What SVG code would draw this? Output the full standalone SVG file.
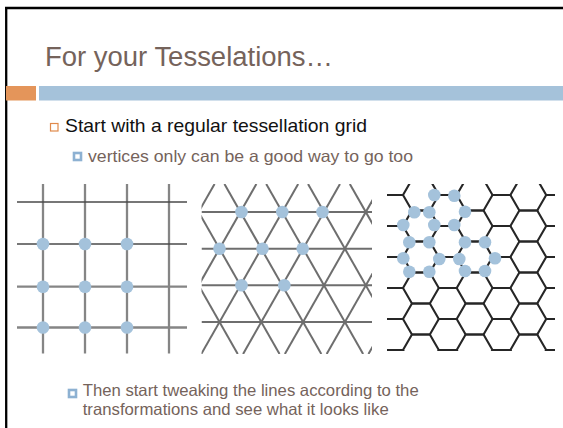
<svg xmlns="http://www.w3.org/2000/svg" xmlns:xlink="http://www.w3.org/1999/xlink" width="563" height="428" viewBox="0 0 563 428">
<style>
.ttl{font-family:"Liberation Sans",Arial,sans-serif;font-size:27px;fill:#75635b}
.b1{font-family:"Liberation Sans",Arial,sans-serif;font-size:18.5px;fill:#111}
.b2{font-family:"Liberation Sans",Arial,sans-serif;font-size:16.5px;fill:#75635b}
.gl{stroke:#858585;stroke-width:2.3;fill:none}
.gd{stroke:#4a4a4a;stroke-width:1.4;fill:none}
.tl{stroke:#6e6e6e;stroke-width:2;fill:none}
.hx{stroke:#262626;stroke-width:2.1;fill:none;stroke-linejoin:round}
.dot{fill:#a4c2db}
.sub{fill:#fff;stroke:#8db1d2;stroke-width:2.6}
</style>
<defs>
<clipPath id="ctri"><rect x="201.5" y="184" width="170.5" height="170"/></clipPath>
<clipPath id="chex"><rect x="387" y="184" width="168" height="167"/></clipPath>
<path id="hE" d="M-26.85,15.5 L-17.9,0 L0,0 L8.95,15.5 L26.85,15.5 L35.8,0 L53.7,0 L62.65,15.5 L80.55,15.5 L89.5,0 L107.4,0 L116.35,15.5 L134.25,15.5 L143.2,0 L161.1,0 L170.05,15.5"/>
<path id="hO" d="M-26.85,0 L-17.9,15.5 L0,15.5 L8.95,0 L26.85,0 L35.8,15.5 L53.7,15.5 L62.65,0 L80.55,0 L89.5,15.5 L107.4,15.5 L116.35,0 L134.25,0 L143.2,15.5 L161.1,15.5 L170.05,0"/>
</defs>
<rect width="563" height="428" fill="#fff"/>
<g id="border" stroke="#000" stroke-width="2.3">
<line x1="6.2" y1="7" x2="6.2" y2="428"/>
<line x1="5" y1="8" x2="563" y2="8"/>
</g>
<g id="title"><text class="ttl" x="45" y="65.5" textLength="288" lengthAdjust="spacingAndGlyphs">For your Tesselations…</text></g>
<g id="bars">
<rect x="6" y="86" width="30" height="14.5" fill="#e4955a"/>
<rect x="39" y="86" width="524" height="14.5" fill="#a5c2da"/>
</g>
<g id="bullet1">
<rect x="50.5" y="123.5" width="7.5" height="7.5" fill="#fff" stroke="#e08a4c" stroke-width="1.2"/>
<text class="b1" x="65" y="132" textLength="302" lengthAdjust="spacingAndGlyphs">Start with a regular tessellation grid</text>
</g>
<g id="bullet2">
<rect class="sub" x="74" y="153" width="7" height="7"/>
<text class="b2" x="88" y="162" textLength="325" lengthAdjust="spacingAndGlyphs">vertices only can be a good way to go too</text>
</g>
<g id="square-grid">
<g class="gl">
<line x1="43" y1="184" x2="43" y2="353.5"/>
<line x1="85" y1="184" x2="85" y2="353.5"/>
<line x1="127" y1="184" x2="127" y2="353.5"/>
<line x1="169" y1="184" x2="169" y2="353.5"/>
<line x1="17" y1="286.7" x2="187" y2="286.7"/>
<line x1="17" y1="327.5" x2="187" y2="327.5"/>
</g>
<g class="gd">
<line x1="17" y1="202" x2="187" y2="202"/>
<line x1="17" y1="244" x2="187" y2="244"/>
</g>
<circle class="dot" cx="43" cy="244" r="6.3"/>
<circle class="dot" cx="85" cy="244" r="6.3"/>
<circle class="dot" cx="127" cy="244" r="6.3"/>
<circle class="dot" cx="43" cy="286.7" r="6.3"/>
<circle class="dot" cx="85" cy="286.7" r="6.3"/>
<circle class="dot" cx="127" cy="286.7" r="6.3"/>
<circle class="dot" cx="43" cy="327.5" r="6.3"/>
<circle class="dot" cx="85" cy="327.5" r="6.3"/>
<circle class="dot" cx="127" cy="327.5" r="6.3"/>
</g>
<g id="triangle-grid">
<g class="tl" clip-path="url(#ctri)">
<line x1="201.5" y1="212" x2="372" y2="212"/>
<line x1="201.5" y1="248.7" x2="372" y2="248.7"/>
<line x1="201.5" y1="285.3" x2="372" y2="285.3"/>
<line x1="201.5" y1="322" x2="372" y2="322"/>
<line x1="140.84" y1="184" x2="237.73" y2="354"/>
<line x1="182.64" y1="184" x2="279.53" y2="354"/>
<line x1="224.44" y1="184" x2="321.33" y2="354"/>
<line x1="266.24" y1="184" x2="363.13" y2="354"/>
<line x1="308.04" y1="184" x2="404.93" y2="354"/>
<line x1="349.84" y1="184" x2="446.73" y2="354"/>
<line x1="214.56" y1="184" x2="117.67" y2="354"/>
<line x1="256.36" y1="184" x2="159.47" y2="354"/>
<line x1="298.16" y1="184" x2="201.27" y2="354"/>
<line x1="339.96" y1="184" x2="243.07" y2="354"/>
<line x1="381.76" y1="184" x2="284.87" y2="354"/>
<line x1="423.56" y1="184" x2="326.67" y2="354"/>
<line x1="465.36" y1="184" x2="368.47" y2="354"/>
</g>
<circle class="dot" cx="241.5" cy="212" r="6.3"/>
<circle class="dot" cx="282.3" cy="212" r="6.3"/>
<circle class="dot" cx="322.5" cy="212" r="6.3"/>
<circle class="dot" cx="219.5" cy="248.7" r="6.3"/>
<circle class="dot" cx="262.5" cy="248.7" r="6.3"/>
<circle class="dot" cx="302.7" cy="248.7" r="6.3"/>
<circle class="dot" cx="241.5" cy="285.3" r="6.3"/>
<circle class="dot" cx="284.3" cy="285.3" r="6.3"/>
</g>
<g id="hex-grid">
<g clip-path="url(#chex)">
<g class="hx" transform="translate(403,195)">
<use xlink:href="#hO" y="-15.5"/>
<use xlink:href="#hE" y="0"/>
<use xlink:href="#hO" y="15.5"/>
<use xlink:href="#hE" y="31"/>
<use xlink:href="#hO" y="46.5"/>
<use xlink:href="#hE" y="62"/>
<use xlink:href="#hO" y="77.5"/>
<use xlink:href="#hE" y="93"/>
<use xlink:href="#hO" y="108.5"/>
<use xlink:href="#hE" y="124"/>
<use xlink:href="#hO" y="139.5"/>
<use xlink:href="#hE" y="155"/>
</g>
</g>
<circle class="dot" cx="434.3" cy="195" r="6.3"/>
<circle class="dot" cx="454.3" cy="195.7" r="6.3"/>
<circle class="dot" cx="414.3" cy="212.3" r="6.3"/>
<circle class="dot" cx="429.3" cy="212.3" r="6.3"/>
<circle class="dot" cx="465" cy="211.7" r="6.3"/>
<circle class="dot" cx="403.3" cy="225" r="6.3"/>
<circle class="dot" cx="434.3" cy="225" r="6.3"/>
<circle class="dot" cx="454.3" cy="225" r="6.3"/>
<circle class="dot" cx="409.3" cy="242.3" r="6.3"/>
<circle class="dot" cx="429.3" cy="242.3" r="6.3"/>
<circle class="dot" cx="465" cy="242.3" r="6.3"/>
<circle class="dot" cx="485" cy="242.3" r="6.3"/>
<circle class="dot" cx="403.3" cy="258.3" r="6.3"/>
<circle class="dot" cx="439.3" cy="259" r="6.3"/>
<circle class="dot" cx="459.3" cy="259" r="6.3"/>
<circle class="dot" cx="495" cy="258.3" r="6.3"/>
<circle class="dot" cx="409.3" cy="271.7" r="6.3"/>
<circle class="dot" cx="429.3" cy="271.7" r="6.3"/>
<circle class="dot" cx="465" cy="271" r="6.3"/>
<circle class="dot" cx="485" cy="271" r="6.3"/>
</g>
<g id="bullet3">
<rect class="sub" x="69" y="390" width="7" height="7"/>
<text class="b2" x="82.7" y="396" textLength="336" lengthAdjust="spacingAndGlyphs">Then start tweaking the lines according to the</text>
<text class="b2" x="82.7" y="414.5" textLength="306" lengthAdjust="spacingAndGlyphs">transformations and see what it looks like</text>
</g>
</svg>
